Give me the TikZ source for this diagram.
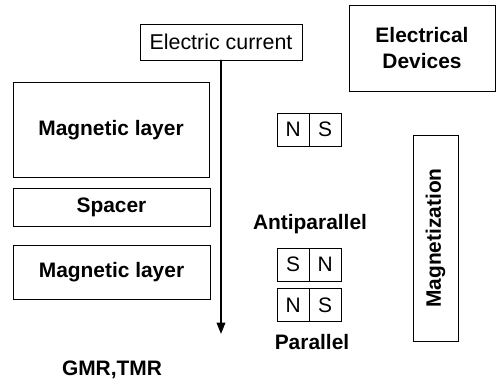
\documentclass[tikz,border=0pt]{standalone}
\usepackage{fontspec}
\setmainfont{Liberation Sans}
\usepackage{tikz}
\usetikzlibrary{arrows.meta,positioning}
\tikzset{layerbox/.style={rectangle,draw,line width=.8pt,inner sep=0pt,font=\fontsize{21}{26}\selectfont\bfseries,align=center},plainbox/.style={rectangle,draw,line width=.8pt,inner sep=0pt,font=\fontsize{21.5}{26}\selectfont},pole/.style={rectangle,draw,line width=.8pt,minimum width=32bp,minimum height=33bp,inner sep=0pt,font=\fontsize{21}{26}\selectfont},tag/.style={font=\fontsize{21}{26}\selectfont\bfseries},current/.style={-{Triangle[length=4mm,width=3mm]},line width=1.8pt},every picture/.style={line cap=round}}
\begin{document}
\begin{tikzpicture}[x=1bp,y=-1bp]
\useasboundingbox (0,0) rectangle (497,383);
\node[plainbox,minimum width=162bp,minimum height=36bp] (cur) at (221,42) {Electric current};
\node[layerbox,minimum width=196bp,minimum height=95bp] (topL) at (111,130) {Magnetic layer};
\node[layerbox,minimum width=197bp,minimum height=38bp] (spc) at (111.5,207) {Spacer};
\node[layerbox,minimum width=197bp,minimum height=54bp] (botL) at (111.5,272) {Magnetic layer};
\coordinate (tip) at (cur.south |- 0,334);
\draw[current] (cur.south) -- (tip);
\node[tag] (gmr) at (112,370) {GMR,TMR};
\node[layerbox,minimum width=146bp,minimum height=86bp] (dev) at (422,48) {Electrical\\Devices};
\node[layerbox,minimum width=45bp,minimum height=206bp] (mag) at (435.5,238) {};
\node[tag,rotate=90] (magt) at (mag.center) {Magnetization};
\foreach \n/\a/\b/\y in {p1/N/S/129.5,p2/S/N/264.5,p3/N/S/305}{
\node[pole,anchor=east] (\n l) at (309.5,\y) {\a};
\node[pole,right=-.8pt of \n l] (\n r) {\b};
}
\node[tag] (anti) at (310,224) {Antiparallel};
\node[tag] (par) at (312,342) {Parallel};
\end{tikzpicture}
\end{document}
